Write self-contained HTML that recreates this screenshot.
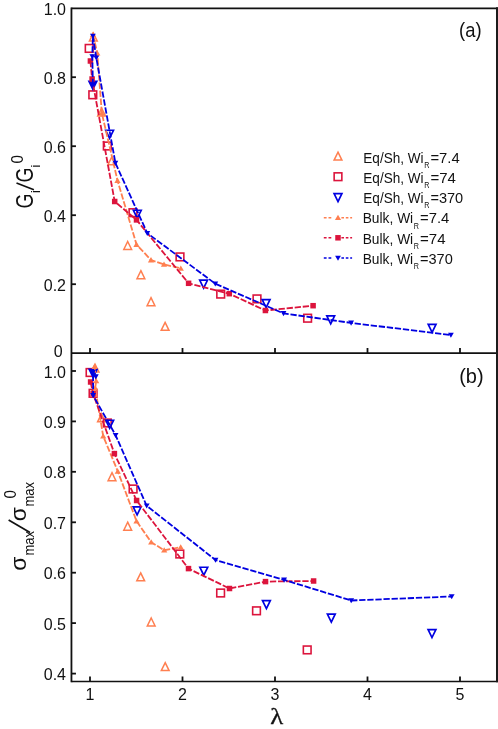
<!DOCTYPE html>
<html><head><meta charset="utf-8"><title>Chart</title>
<style>
html,body{margin:0;padding:0;background:#fff;}
body{width:498px;height:729px;overflow:hidden;font-family:"Liberation Sans",sans-serif;}
svg{display:block;position:absolute;left:0;top:0;}
svg{will-change:transform;}
</style></head><body>
<svg width="498" height="729" viewBox="0 0 498 729">
<rect x="0" y="0" width="498" height="729" fill="#fff"/>
<path d="M93.3 33.1L97.2 41.05L89.4 41.05Z" fill="none" stroke="#FF7F50" stroke-width="1.5"/>
<path d="M101.6 108.1L105.5 116.05L97.7 116.05Z" fill="none" stroke="#FF7F50" stroke-width="1.5"/>
<path d="M111.8 156.9L115.7 164.85L107.9 164.85Z" fill="none" stroke="#FF7F50" stroke-width="1.5"/>
<path d="M127.7 241.5L131.6 249.45L123.8 249.45Z" fill="none" stroke="#FF7F50" stroke-width="1.5"/>
<path d="M140.9 270.7L144.8 278.65L137 278.65Z" fill="none" stroke="#FF7F50" stroke-width="1.5"/>
<path d="M151 297.7L154.9 305.65L147.1 305.65Z" fill="none" stroke="#FF7F50" stroke-width="1.5"/>
<path d="M165.1 322.4L169 330.35L161.2 330.35Z" fill="none" stroke="#FF7F50" stroke-width="1.5"/>
<rect x="85.35" y="44.55" width="7.7" height="7.7" fill="none" stroke="#DC143C" stroke-width="1.6"/>
<rect x="88.95" y="90.95" width="7.7" height="7.7" fill="none" stroke="#DC143C" stroke-width="1.6"/>
<rect x="103.45" y="142.15" width="7.7" height="7.7" fill="none" stroke="#DC143C" stroke-width="1.6"/>
<rect x="129.15" y="208.85" width="7.7" height="7.7" fill="none" stroke="#DC143C" stroke-width="1.6"/>
<rect x="176.15" y="253.05" width="7.7" height="7.7" fill="none" stroke="#DC143C" stroke-width="1.6"/>
<rect x="216.85" y="290.25" width="7.7" height="7.7" fill="none" stroke="#DC143C" stroke-width="1.6"/>
<rect x="253.15" y="295.05" width="7.7" height="7.7" fill="none" stroke="#DC143C" stroke-width="1.6"/>
<rect x="303.75" y="314.35" width="7.7" height="7.7" fill="none" stroke="#DC143C" stroke-width="1.6"/>
<path d="M92.9 89.2L96.8 81.25L89 81.25Z" fill="#0000E1" stroke="#0000E1" stroke-width="1.7"/>
<path d="M109.6 138.2L113.5 130.25L105.7 130.25Z" fill="none" stroke="#0000E1" stroke-width="1.7"/>
<path d="M137.3 218.2L141.2 210.25L133.4 210.25Z" fill="none" stroke="#0000E1" stroke-width="1.7"/>
<path d="M203.6 288.1L207.5 280.15L199.7 280.15Z" fill="none" stroke="#0000E1" stroke-width="1.7"/>
<path d="M266.1 307.6L270 299.65L262.2 299.65Z" fill="none" stroke="#0000E1" stroke-width="1.7"/>
<path d="M330.7 323.8L334.6 315.85L326.8 315.85Z" fill="none" stroke="#0000E1" stroke-width="1.7"/>
<path d="M432.1 332.4L436 324.45L428.2 324.45Z" fill="none" stroke="#0000E1" stroke-width="1.7"/>
<path d="M93 34.5L97.3 53.1L101.8 113L117.5 180.5L136.5 244.5L151 260L164 264.4L180.8 268.3" fill="none" stroke="#FF7F50" stroke-width="1.8" stroke-dasharray="6.3 1.8"/>
<path d="M93 31.6L96.1 36.9L89.9 36.9Z" fill="#FF7F50"/>
<path d="M97.3 50.2L100.4 55.5L94.2 55.5Z" fill="#FF7F50"/>
<path d="M101.8 110.1L104.9 115.4L98.7 115.4Z" fill="#FF7F50"/>
<path d="M117.5 177.6L120.6 182.9L114.4 182.9Z" fill="#FF7F50"/>
<path d="M136.5 241.6L139.6 246.9L133.4 246.9Z" fill="#FF7F50"/>
<path d="M151 257.1L154.1 262.4L147.9 262.4Z" fill="#FF7F50"/>
<path d="M164 261.5L167.1 266.8L160.9 266.8Z" fill="#FF7F50"/>
<path d="M180.8 265.4L183.9 270.7L177.7 270.7Z" fill="#FF7F50"/>
<path d="M90.4 61L92.1 79L114.7 201.5L136.5 219.9L188.6 283.3L229.3 293.7L265.4 310.5L313.1 305.7" fill="none" stroke="#DC143C" stroke-width="1.8" stroke-dasharray="6.3 1.8"/>
<rect x="87.65" y="58.25" width="5.5" height="5.5" fill="#DC143C"/>
<rect x="89.35" y="76.25" width="5.5" height="5.5" fill="#DC143C"/>
<rect x="111.95" y="198.75" width="5.5" height="5.5" fill="#DC143C"/>
<rect x="133.75" y="217.15" width="5.5" height="5.5" fill="#DC143C"/>
<rect x="185.85" y="280.55" width="5.5" height="5.5" fill="#DC143C"/>
<rect x="226.55" y="290.95" width="5.5" height="5.5" fill="#DC143C"/>
<rect x="262.65" y="307.75" width="5.5" height="5.5" fill="#DC143C"/>
<rect x="310.35" y="302.95" width="5.5" height="5.5" fill="#DC143C"/>
<path d="M92.9 85L92.3 56.5L92.9 36L96.3 57.8L115.4 163L147.3 233.2L215.3 283.7L283.5 313.4L351.1 322.9L450.9 335" fill="none" stroke="#0000E1" stroke-width="1.8" stroke-dasharray="6.3 1.8"/>
<path d="M92.9 87.8L95.8 82.7L90 82.7Z" fill="#0000E1"/>
<path d="M92.3 59.3L95.2 54.2L89.4 54.2Z" fill="#0000E1"/>
<path d="M92.9 38.8L95.8 33.7L90 33.7Z" fill="#0000E1"/>
<path d="M96.3 60.6L99.2 55.5L93.4 55.5Z" fill="#0000E1"/>
<path d="M115.4 165.8L118.3 160.7L112.5 160.7Z" fill="#0000E1"/>
<path d="M147.3 236L150.2 230.9L144.4 230.9Z" fill="#0000E1"/>
<path d="M215.3 286.5L218.2 281.4L212.4 281.4Z" fill="#0000E1"/>
<path d="M283.5 316.2L286.4 311.1L280.6 311.1Z" fill="#0000E1"/>
<path d="M351.1 325.7L354 320.6L348.2 320.6Z" fill="#0000E1"/>
<path d="M450.9 337.8L453.8 332.7L448 332.7Z" fill="#0000E1"/>
<path d="M95 364.1L98.9 372.05L91.1 372.05Z" fill="none" stroke="#FF7F50" stroke-width="1.5"/>
<path d="M101.5 413.8L105.4 421.75L97.6 421.75Z" fill="none" stroke="#FF7F50" stroke-width="1.5"/>
<path d="M112 472.7L115.9 480.65L108.1 480.65Z" fill="none" stroke="#FF7F50" stroke-width="1.5"/>
<path d="M127.7 522.2L131.6 530.15L123.8 530.15Z" fill="none" stroke="#FF7F50" stroke-width="1.5"/>
<path d="M140.7 572.9L144.6 580.85L136.8 580.85Z" fill="none" stroke="#FF7F50" stroke-width="1.5"/>
<path d="M151.2 618L155.1 625.95L147.3 625.95Z" fill="none" stroke="#FF7F50" stroke-width="1.5"/>
<path d="M165.2 662.6L169.1 670.55L161.3 670.55Z" fill="none" stroke="#FF7F50" stroke-width="1.5"/>
<rect x="86.25" y="368.65" width="7.7" height="7.7" fill="none" stroke="#DC143C" stroke-width="1.6"/>
<rect x="89.25" y="389.45" width="7.7" height="7.7" fill="none" stroke="#DC143C" stroke-width="1.6"/>
<rect x="103.45" y="419.15" width="7.7" height="7.7" fill="none" stroke="#DC143C" stroke-width="1.6"/>
<rect x="129.25" y="485.15" width="7.7" height="7.7" fill="none" stroke="#DC143C" stroke-width="1.6"/>
<rect x="175.95" y="550.15" width="7.7" height="7.7" fill="none" stroke="#DC143C" stroke-width="1.6"/>
<rect x="216.75" y="589.15" width="7.7" height="7.7" fill="none" stroke="#DC143C" stroke-width="1.6"/>
<rect x="252.65" y="606.95" width="7.7" height="7.7" fill="none" stroke="#DC143C" stroke-width="1.6"/>
<rect x="303.35" y="646.05" width="7.7" height="7.7" fill="none" stroke="#DC143C" stroke-width="1.6"/>
<path d="M93.1 377.4L97 369.45L89.2 369.45Z" fill="#0000E1" stroke="#0000E1" stroke-width="1.7"/>
<path d="M109.7 428.2L113.6 420.25L105.8 420.25Z" fill="none" stroke="#0000E1" stroke-width="1.7"/>
<path d="M137.1 514.9L141 506.95L133.2 506.95Z" fill="none" stroke="#0000E1" stroke-width="1.7"/>
<path d="M203.8 575.2L207.7 567.25L199.9 567.25Z" fill="none" stroke="#0000E1" stroke-width="1.7"/>
<path d="M266.4 608.6L270.3 600.65L262.5 600.65Z" fill="none" stroke="#0000E1" stroke-width="1.7"/>
<path d="M331.3 622.1L335.2 614.15L327.4 614.15Z" fill="none" stroke="#0000E1" stroke-width="1.7"/>
<path d="M432 637.5L435.9 629.55L428.1 629.55Z" fill="none" stroke="#0000E1" stroke-width="1.7"/>
<path d="M94.6 366.5L96.2 380.8L95.2 388L103.2 436.2L117.8 471.3L136.5 521.1L151.2 542.2L164.2 550.2L180.7 547.2" fill="none" stroke="#FF7F50" stroke-width="1.8" stroke-dasharray="6.3 1.8"/>
<path d="M94.6 363.6L97.7 368.9L91.5 368.9Z" fill="#FF7F50"/>
<path d="M96.2 377.9L99.3 383.2L93.1 383.2Z" fill="#FF7F50"/>
<path d="M95.2 385.1L98.3 390.4L92.1 390.4Z" fill="#FF7F50"/>
<path d="M103.2 433.3L106.3 438.6L100.1 438.6Z" fill="#FF7F50"/>
<path d="M117.8 468.4L120.9 473.7L114.7 473.7Z" fill="#FF7F50"/>
<path d="M136.5 518.2L139.6 523.5L133.4 523.5Z" fill="#FF7F50"/>
<path d="M151.2 539.3L154.3 544.6L148.1 544.6Z" fill="#FF7F50"/>
<path d="M164.2 547.3L167.3 552.6L161.1 552.6Z" fill="#FF7F50"/>
<path d="M180.7 544.3L183.8 549.6L177.6 549.6Z" fill="#FF7F50"/>
<path d="M90.6 382L93.1 393.6L114.4 453.6L136.6 500.5L188.5 568.6L229.5 588.5L265.5 581.6L313.6 581" fill="none" stroke="#DC143C" stroke-width="1.8" stroke-dasharray="6.3 1.8"/>
<rect x="87.85" y="379.25" width="5.5" height="5.5" fill="#DC143C"/>
<rect x="90.35" y="390.85" width="5.5" height="5.5" fill="#DC143C"/>
<rect x="111.65" y="450.85" width="5.5" height="5.5" fill="#DC143C"/>
<rect x="133.85" y="497.75" width="5.5" height="5.5" fill="#DC143C"/>
<rect x="185.75" y="565.85" width="5.5" height="5.5" fill="#DC143C"/>
<rect x="226.75" y="585.75" width="5.5" height="5.5" fill="#DC143C"/>
<rect x="262.75" y="578.85" width="5.5" height="5.5" fill="#DC143C"/>
<rect x="310.85" y="578.25" width="5.5" height="5.5" fill="#DC143C"/>
<path d="M95.8 376.6L93.1 372L93.1 395.4L115.6 435.2L146.7 505.8L215.5 560L284.1 579.9L351.2 600.5L451.7 596.5" fill="none" stroke="#0000E1" stroke-width="1.8" stroke-dasharray="6.3 1.8"/>
<path d="M95.8 379.4L98.7 374.3L92.9 374.3Z" fill="#0000E1"/>
<path d="M93.1 374.8L96 369.7L90.2 369.7Z" fill="#0000E1"/>
<path d="M93.1 398.2L96 393.1L90.2 393.1Z" fill="#0000E1"/>
<path d="M115.6 438L118.5 432.9L112.7 432.9Z" fill="#0000E1"/>
<path d="M146.7 508.6L149.6 503.5L143.8 503.5Z" fill="#0000E1"/>
<path d="M215.5 562.8L218.4 557.7L212.6 557.7Z" fill="#0000E1"/>
<path d="M284.1 582.7L287 577.6L281.2 577.6Z" fill="#0000E1"/>
<path d="M351.2 603.3L354.1 598.2L348.3 598.2Z" fill="#0000E1"/>
<path d="M451.7 599.3L454.6 594.2L448.8 594.2Z" fill="#0000E1"/>
<g stroke="#111" stroke-width="1.8" fill="none">
<path d="M71.45 7.499999999999999V682.3"/>
<path d="M71.45 8.3H498" stroke-width="1.65"/>
<path d="M71.45 353.0H498" stroke-width="1.75"/>
<path d="M71.45 681.6H498" stroke-width="1.5"/>
<path d="M497.0 7.299999999999999V682.2" stroke-width="2" stroke="#1c1c1c"/>
<path d="M90 353.0V348"/>
<path d="M90 681.5V676.5"/>
<path d="M182.5 353.0V348"/>
<path d="M182.5 681.5V676.5"/>
<path d="M275 353.0V348"/>
<path d="M275 681.5V676.5"/>
<path d="M367.5 353.0V348"/>
<path d="M367.5 681.5V676.5"/>
<path d="M460 353.0V348"/>
<path d="M460 681.5V676.5"/>
<path d="M71.45 77.2H75.95"/>
<path d="M71.45 146.2H75.95"/>
<path d="M71.45 215.2H75.95"/>
<path d="M71.45 284.2H75.95"/>
<path d="M71.45 371H75.95"/>
<path d="M71.45 421.4H75.95"/>
<path d="M71.45 471.8H75.95"/>
<path d="M71.45 522.3H75.95"/>
<path d="M71.45 572.7H75.95"/>
<path d="M71.45 623.1H75.95"/>
<path d="M71.45 673.6H75.95"/>
</g>
<g class="tx" font-family="'Liberation Sans', sans-serif" font-size="16" fill="#111">
<text x="66.0" y="15.43" text-anchor="end">1.0</text>
<text x="66.0" y="83.73" text-anchor="end">0.8</text>
<text x="66.0" y="152.73" text-anchor="end">0.6</text>
<text x="66.0" y="221.73" text-anchor="end">0.4</text>
<text x="66.0" y="290.73" text-anchor="end">0.2</text>
<text x="62.6" y="357.33" text-anchor="end">0</text>
<text x="66.0" y="377.53" text-anchor="end">1.0</text>
<text x="66.0" y="427.93" text-anchor="end">0.9</text>
<text x="66.0" y="478.33" text-anchor="end">0.8</text>
<text x="66.0" y="528.83" text-anchor="end">0.7</text>
<text x="66.0" y="579.23" text-anchor="end">0.6</text>
<text x="66.0" y="629.63" text-anchor="end">0.5</text>
<text x="66.0" y="680.13" text-anchor="end">0.4</text>
<text x="90" y="700" text-anchor="middle">1</text>
<text x="182.5" y="700" text-anchor="middle">2</text>
<text x="275" y="700" text-anchor="middle">3</text>
<text x="367.5" y="700" text-anchor="middle">4</text>
<text x="460" y="700" text-anchor="middle">5</text>
</g>
<g class="tx" font-family="'Liberation Sans', sans-serif" font-size="20.5" fill="#111">
<text x="470.3" y="36.8" text-anchor="middle" textLength="22.5" lengthAdjust="spacingAndGlyphs">(a)</text>
<text x="471.4" y="383.1" text-anchor="middle" textLength="24.4" lengthAdjust="spacingAndGlyphs">(b)</text>
</g>
<text class="tx" transform="translate(276.8,723.5) scale(1.15,1)" x="0" y="0" text-anchor="middle" font-family="'Liberation Serif', serif" font-size="23.3" stroke="#111" stroke-width="0.3" fill="#111">λ</text>
<path d="M338 152.1L341.9 160.05L334.1 160.05Z" fill="none" stroke="#FF7F50" stroke-width="1.5"/>
<rect x="334.15" y="172.85" width="7.7" height="7.7" fill="none" stroke="#DC143C" stroke-width="1.6"/>
<path d="M338 201.6L341.9 193.65L334.1 193.65Z" fill="none" stroke="#0000E1" stroke-width="1.7"/>
<path d="M323.8 217.65L332 217.65" fill="none" stroke="#FF7F50" stroke-width="1.5" stroke-dasharray="2.8 1.9"/>
<path d="M341.4 217.65L352.1 217.65" fill="none" stroke="#FF7F50" stroke-width="1.5" stroke-dasharray="2.6 1.8"/>
<path d="M338 214.75L341.1 220.05L334.9 220.05Z" fill="#FF7F50"/>
<path d="M323.8 237.8L332 237.8" fill="none" stroke="#DC143C" stroke-width="1.5" stroke-dasharray="2.8 1.9"/>
<path d="M341.4 237.8L352.1 237.8" fill="none" stroke="#DC143C" stroke-width="1.5" stroke-dasharray="2.6 1.8"/>
<rect x="335.25" y="235.05" width="5.5" height="5.5" fill="#DC143C"/>
<path d="M323.8 258L332 258" fill="none" stroke="#0000E1" stroke-width="1.5" stroke-dasharray="2.8 1.9"/>
<path d="M341.4 258L352.1 258" fill="none" stroke="#0000E1" stroke-width="1.5" stroke-dasharray="2.6 1.8"/>
<path d="M338 260.8L340.9 255.7L335.1 255.7Z" fill="#0000E1"/>
<g class="tx" font-family="'Liberation Sans', sans-serif" font-size="14" fill="#111">
<text x="363.3" y="162.7" textLength="60.3" lengthAdjust="spacingAndGlyphs">Eq/Sh, Wi</text><text x="424.2" y="168.1" font-size="8.2" textLength="5.2" lengthAdjust="spacingAndGlyphs">R</text><text x="430.4" y="162.7" textLength="29.3" lengthAdjust="spacingAndGlyphs">=7.4</text>
<text x="363.3" y="182.7" textLength="60.3" lengthAdjust="spacingAndGlyphs">Eq/Sh, Wi</text><text x="424.2" y="188.1" font-size="8.2" textLength="5.2" lengthAdjust="spacingAndGlyphs">R</text><text x="430.4" y="182.7" textLength="25.5" lengthAdjust="spacingAndGlyphs">=74</text>
<text x="363.3" y="202.9" textLength="60.3" lengthAdjust="spacingAndGlyphs">Eq/Sh, Wi</text><text x="424.2" y="208.3" font-size="8.2" textLength="5.2" lengthAdjust="spacingAndGlyphs">R</text><text x="430.4" y="202.9" textLength="32.8" lengthAdjust="spacingAndGlyphs">=370</text>
<text x="362.7" y="223.2" textLength="50.5" lengthAdjust="spacingAndGlyphs">Bulk, Wi</text><text x="413.8" y="228.6" font-size="8.2" textLength="5.2" lengthAdjust="spacingAndGlyphs">R</text><text x="420" y="223.2" textLength="29.3" lengthAdjust="spacingAndGlyphs">=7.4</text>
<text x="362.7" y="243.5" textLength="50.5" lengthAdjust="spacingAndGlyphs">Bulk, Wi</text><text x="413.8" y="248.9" font-size="8.2" textLength="5.2" lengthAdjust="spacingAndGlyphs">R</text><text x="420" y="243.5" textLength="25.5" lengthAdjust="spacingAndGlyphs">=74</text>
<text x="362.7" y="263.7" textLength="50.5" lengthAdjust="spacingAndGlyphs">Bulk, Wi</text><text x="413.8" y="269.1" font-size="8.2" textLength="5.2" lengthAdjust="spacingAndGlyphs">R</text><text x="420" y="263.7" textLength="32.8" lengthAdjust="spacingAndGlyphs">=370</text>
</g>
<g class="tx" font-family="'Liberation Sans', sans-serif" fill="#111">
<g transform="translate(33.1,207.6) rotate(-90)">
<text x="-0.9" y="0" font-size="23.4" textLength="15" lengthAdjust="spacingAndGlyphs">G</text>
<text x="14.6" y="6.6" font-size="12.5">i</text>
<path d="M17.9 0.8L24.6 -16.6" stroke="#111" stroke-width="1.7" fill="none"/>
<text x="25.0" y="0" font-size="23.4" textLength="15" lengthAdjust="spacingAndGlyphs">G</text>
<text x="40.2" y="6.6" font-size="12.5">i</text>
<text x="44" y="-10.1" font-size="16.6" textLength="8.4" lengthAdjust="spacingAndGlyphs">0</text>
</g>
<g transform="translate(26,570.8) rotate(-90)">
<text x="0" y="0" font-size="22" textLength="14" lengthAdjust="spacingAndGlyphs">σ</text>
<text x="15.2" y="7.8" font-size="14.5" textLength="24.6" lengthAdjust="spacingAndGlyphs">max</text>
<path d="M38.2 4L50.8 -17.4" stroke="#111" stroke-width="1.7" fill="none"/>
<text x="49.6" y="0" font-size="22" textLength="14" lengthAdjust="spacingAndGlyphs">σ</text>
<text x="64.2" y="7.8" font-size="14.5" textLength="24.6" lengthAdjust="spacingAndGlyphs">max</text>
<text x="72.4" y="-10.3" font-size="17" textLength="8.4" lengthAdjust="spacingAndGlyphs">0</text>
</g>
</g>
</svg>
</body></html>
